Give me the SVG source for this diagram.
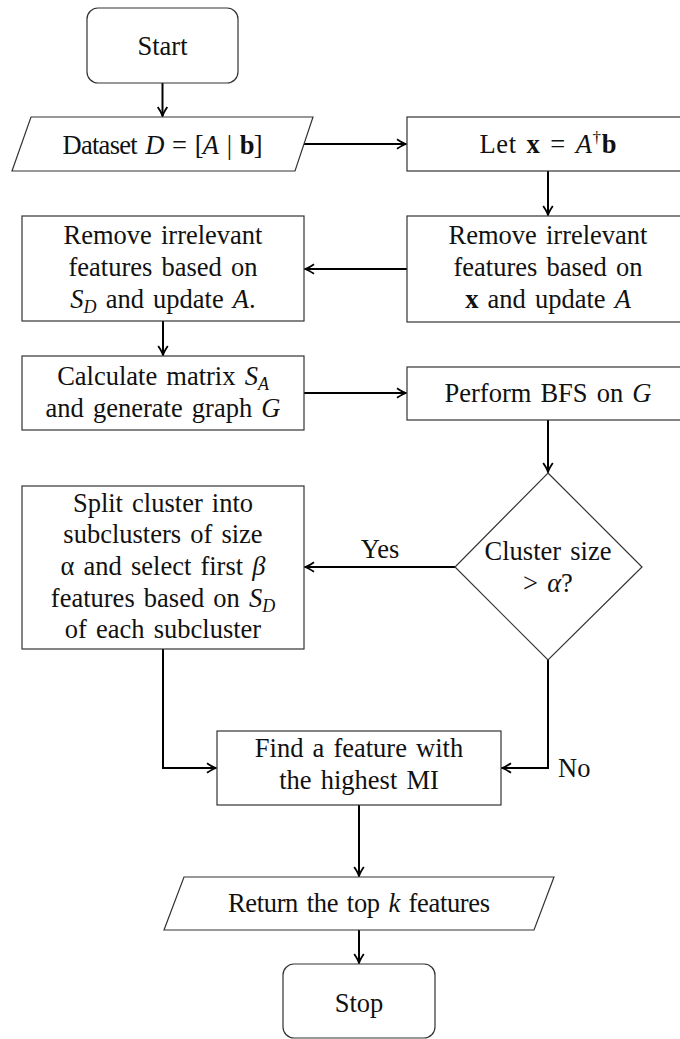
<svg xmlns="http://www.w3.org/2000/svg" width="680" height="1039" viewBox="0 0 680 1039" font-family="Liberation Serif, Tinos, serif">
<style>
.n{fill:#fff;stroke:#333;stroke-width:1.2}
.t{font-family:'Liberation Serif',Tinos,serif;font-size:26.5px;word-spacing:2.5px;fill:#111;text-anchor:middle}
.l{font-family:'Liberation Serif',Tinos,serif;font-size:26.5px;fill:#111}
.i{font-style:italic}
.b{font-weight:bold}
.c{fill:none;stroke:#000;stroke-width:2}
</style>
<defs>
<marker id="ah" viewBox="0 0 12 12" markerWidth="12" markerHeight="12" refX="10.5" refY="6" orient="auto" markerUnits="userSpaceOnUse">
<path d="M1.5,1.2 Q7,5 10.5,6 Q7,7 1.5,10.8" fill="none" stroke="#000" stroke-width="1.8"/>
</marker>
</defs>
<rect width="680" height="1039" fill="#fff"/>
<g id="connectors">
<path class="c" d="M162.5,83 V116" marker-end="url(#ah)"/>
<path class="c" d="M304,144 H406" marker-end="url(#ah)"/>
<path class="c" d="M548,171 V215" marker-end="url(#ah)"/>
<path class="c" d="M407,269 H305" marker-end="url(#ah)"/>
<path class="c" d="M163,321 V355" marker-end="url(#ah)"/>
<path class="c" d="M304,393 H406" marker-end="url(#ah)"/>
<path class="c" d="M548,420 V472" marker-end="url(#ah)"/>
<path class="c" d="M455,567 H305" marker-end="url(#ah)"/>
<path class="c" d="M163,649 V768 H216" marker-end="url(#ah)"/>
<path class="c" d="M548,660 V768 H502" marker-end="url(#ah)"/>
<path class="c" d="M359,805 V876" marker-end="url(#ah)"/>
<path class="c" d="M359,930 V963" marker-end="url(#ah)"/>
<text class="t" x="380" y="558">Yes</text>
<text class="l" x="558" y="777">No</text>
</g>
<g id="start">
<rect class="n" x="87" y="8" width="151" height="75" rx="11"/>
<text class="t" x="162.5" y="55">Start</text>
</g>
<g id="dataset">
<polygon class="n" points="31,117 313,117 295,171 12,171"/>
<text class="t" x="162.5" y="154" textLength="200" lengthAdjust="spacing">Dataset <tspan class="i">D</tspan> = [<tspan class="i">A</tspan> | <tspan class="b">b</tspan>]</text>
</g>
<g id="let">
<rect class="n" x="407" y="117" width="282" height="54"/>
<text class="t" x="548" y="153" textLength="137" lengthAdjust="spacing">Let <tspan class="b">x</tspan> = <tspan class="i">A</tspan><tspan font-size="17" dy="-10">†</tspan><tspan class="b" dy="10">b</tspan></text>
</g>
<g id="removex">
<rect class="n" x="407" y="216" width="282" height="106"/>
<text class="t" x="548" y="244">Remove irrelevant</text>
<text class="t" x="548" y="276">features based on</text>
<text class="t" x="548" y="308"><tspan class="b">x</tspan> and update <tspan class="i">A</tspan></text>
</g>
<g id="removesd">
<rect class="n" x="22" y="216" width="282" height="105"/>
<text class="t" x="163" y="244">Remove irrelevant</text>
<text class="t" x="163" y="276">features based on</text>
<text class="t" x="163" y="308"><tspan class="i">S</tspan><tspan class="i" font-size="18" dy="5">D</tspan><tspan dy="-5"> and update </tspan><tspan class="i">A</tspan>.</text>
</g>
<g id="calc">
<rect class="n" x="22" y="356" width="282" height="74"/>
<text class="t" x="163" y="385">Calculate matrix <tspan class="i">S</tspan><tspan class="i" font-size="18" dy="5">A</tspan></text>
<text class="t" x="163" y="417">and generate graph <tspan class="i">G</tspan></text>
</g>
<g id="bfs">
<rect class="n" x="407" y="367" width="282" height="53"/>
<text class="t" x="548" y="402">Perform BFS on <tspan class="i">G</tspan></text>
</g>
<g id="decision">
<polygon class="n" points="548,473 642,567 548,660 455,567"/>
<text class="t" x="548" y="560">Cluster size</text>
<text class="t" x="548" y="592">&gt; <tspan class="i">α</tspan>?</text>
</g>
<g id="split">
<rect class="n" x="22" y="486" width="282" height="163"/>
<text class="t" x="163" y="512">Split cluster into</text>
<text class="t" x="163" y="543">subclusters of size</text>
<text class="t" x="163" y="575">α and select first <tspan class="i">β</tspan></text>
<text class="t" x="163" y="607">features based on <tspan class="i">S</tspan><tspan class="i" font-size="18" dy="5">D</tspan></text>
<text class="t" x="163" y="638">of each subcluster</text>
</g>
<g id="find">
<rect class="n" x="217" y="731" width="284" height="74"/>
<text class="t" x="359" y="757">Find a feature with</text>
<text class="t" x="359" y="789">the highest MI</text>
</g>
<g id="return">
<polygon class="n" points="184,877 554,877 534,930 164,930"/>
<text class="t" x="359" y="912" textLength="262" lengthAdjust="spacing">Return the top <tspan class="i">k</tspan> features</text>
</g>
<g id="stop">
<rect class="n" x="283" y="964" width="152" height="74" rx="11"/>
<text class="t" x="359" y="1012">Stop</text>
</g>
</svg>
